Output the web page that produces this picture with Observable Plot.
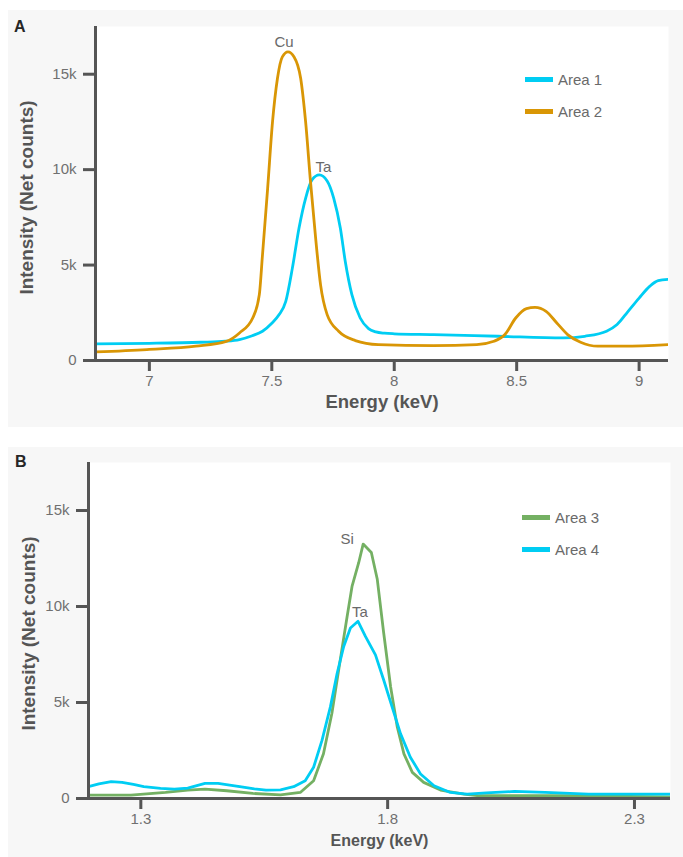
<!DOCTYPE html>
<html>
<head>
<meta charset="utf-8">
<script src="https://cdn.jsdelivr.net/npm/d3@7"></script>
<script src="https://cdn.jsdelivr.net/npm/@observablehq/plot@0.6"></script>
<style>
  body { margin: 0; background: #ffffff; font-family: "Liberation Sans", Arial, sans-serif; }
  #root { position: relative; width: 683px; height: 857px; overflow: hidden; background: #fff; }
  .panel { position: absolute; left: 8px; width: 675px; background: #f7f7f7; }
  .chart { position: absolute; left: 0; }
  .tag { position: absolute; font-weight: bold; font-size: 16px; line-height: 1; color: #262626; }
  .leg { position: absolute; display: flex; align-items: center; height: 20px; font-size: 15px; color: #6a6a6a; white-space: nowrap; }
  .leg .sw { display: inline-block; width: 28px; height: 5px; margin-right: 5px; }
</style>
</head>
<body>
<div id="root">
  <div class="panel" style="top:10px;height:417px;"></div>
  <div class="panel" style="top:447px;height:410px;"></div>
</div>
<script>
// ---------- Data ----------
const panelTags = ["A", "B"];
const seriesA = ["Area 1", "Area 2"];
const seriesB = ["Area 3", "Area 4"];
const colors = { "Area 1": "#00cdf3", "Area 2": "#d99605", "Area 3": "#74b063", "Area 4": "#00cdf3" };

const xDomainA = [6.78, 9.12];
const xDomainB = [1.194, 2.373];
const yDomain = [0, 17500];
const xTicksA = [7, 7.5, 8, 8.5, 9];
const xTicksB = [1.3, 1.8, 2.3];
const yTicks = [0, 5000, 10000, 15000];
const yTickLabels = ["0", "5k", "10k", "15k"];
const xLabel = "Energy (keV)";
const yLabel = "Intensity (Net counts)";

// Area 1 (panel A, cyan)
const area1Energy = [6.78, 7.00, 7.21, 7.31, 7.368, 7.42, 7.462, 7.50, 7.53, 7.557, 7.584, 7.611, 7.638, 7.664, 7.694, 7.726, 7.753, 7.78, 7.80, 7.827, 7.861, 7.895, 7.925, 7.96, 8.0, 8.16, 8.425, 8.69, 8.778, 8.867, 8.91, 8.955, 9.0, 9.043, 9.078, 9.12];
const area1Counts = [870, 900, 957, 1010, 1098, 1300, 1532, 1950, 2405, 3100, 4840, 6931, 8500, 9462, 9723, 9409, 8500, 6931, 5191, 3450, 2227, 1673, 1500, 1430, 1400, 1359, 1270, 1181, 1270, 1532, 1882, 2577, 3272, 3884, 4182, 4250];
// Area 2 (panel A, orange)
const area2Energy = [6.78, 6.99, 7.19, 7.314, 7.368, 7.422, 7.449, 7.462, 7.483, 7.503, 7.523, 7.543, 7.566, 7.591, 7.618, 7.638, 7.658, 7.679, 7.699, 7.726, 7.773, 7.841, 7.935, 8.16, 8.337, 8.407, 8.452, 8.496, 8.54, 8.575, 8.62, 8.664, 8.708, 8.761, 8.831, 8.937, 9.12];
const area2Counts = [450, 575, 748, 1000, 1443, 2227, 3450, 5541, 9023, 12510, 14773, 15907, 16168, 15907, 14773, 12510, 9373, 6410, 3973, 2405, 1532, 1045, 836, 784, 836, 1009, 1359, 2227, 2718, 2786, 2577, 1966, 1359, 957, 748, 748, 836];
// Area 3 (panel B, green)
const area3Energy = [1.194, 1.28, 1.35, 1.395, 1.43, 1.474, 1.527, 1.583, 1.623, 1.65, 1.67, 1.687, 1.704, 1.718, 1.728, 1.7415, 1.7504, 1.767, 1.779, 1.792, 1.806, 1.8195, 1.833, 1.85, 1.873, 1.907, 1.954, 1.986, 2.163, 2.373];
const area3Counts = [178, 178, 315, 440, 493, 404, 262, 194, 315, 928, 2328, 4426, 7221, 9491, 11064, 12292, 13251, 12816, 11416, 8621, 5821, 3723, 2328, 1363, 839, 440, 231, 142, 142, 89];
// Area 4 (panel B, cyan)
const area4Energy = [1.194, 1.215, 1.24, 1.262, 1.285, 1.306, 1.34, 1.368, 1.395, 1.43, 1.4565, 1.48, 1.5005, 1.53, 1.5536, 1.583, 1.6096, 1.633, 1.65, 1.667, 1.684, 1.6977, 1.711, 1.7246, 1.74, 1.755, 1.7753, 1.792, 1.809, 1.826, 1.846, 1.8666, 1.894, 1.927, 1.961, 2.0, 2.057, 2.119, 2.207, 2.373];
const area4Counts = [614, 760, 876, 839, 730, 614, 530, 493, 545, 787, 787, 700, 614, 500, 440, 450, 614, 928, 1626, 3026, 4772, 6523, 7918, 8883, 9229, 8443, 7483, 6172, 4772, 3377, 2150, 1279, 666, 315, 231, 290, 367, 315, 231, 231];

// Peak annotations: element label, series it marks
const annotA = [{ label: "Cu", series: "Area 2" }, { label: "Ta", series: "Area 1" }];
const annotB = [{ label: "Si", series: "Area 3" }, { label: "Ta", series: "Area 4" }];

// ---------- Build ----------
const toRows = (name, E, C) => E.map((e, i) => ({ series: name, energy: e, counts: C[i] }));
const rowsA = [...toRows("Area 1", area1Energy, area1Counts), ...toRows("Area 2", area2Energy, area2Counts)];
const rowsB = [...toRows("Area 3", area3Energy, area3Counts), ...toRows("Area 4", area4Energy, area4Counts)];

const peakOf = (rows, s) => d3.greatest(rows.filter(r => r.series === s), r => r.counts);
const fontFamily = '"Liberation Sans", Arial, sans-serif';
const fmtY = d => yTickLabels[yTicks.indexOf(d)];

function makeChart(opts) {
  const { rows, series, xDomain, xTicks, curve, annot, offsets, margins, height, yLab, xLab } = opts;
  const peaks = annot.map(a => ({ ...peakOf(rows, a.series), label: a.label }));
  return Plot.plot({
    width: 683,
    height,
    ...margins,
    style: { background: "transparent", fontFamily, fontSize: "15px", overflow: "visible" },
    x: { domain: xDomain },
    y: { domain: yDomain },
    marks: [
      Plot.frame({ fill: "white", stroke: "none" }),
      Plot.axisX({ ticks: xTicks, tickSize: 11, tickPadding: 4, stroke: "#555", strokeWidth: 3, color: "#707070", label: null, tickFormat: d => String(d) }),
      Plot.axisY({ ticks: yTicks, tickSize: 12, tickPadding: 7, stroke: "#555", strokeWidth: 3, color: "#707070", label: null, tickFormat: fmtY }),
      ...series.map(s => Plot.line(rows.filter(r => r.series === s), { x: "energy", y: "counts", stroke: colors[s], strokeWidth: 2.8, curve, clip: true })),
      Plot.ruleX([xDomain[0]], { stroke: "#555", strokeWidth: 3 }),
      Plot.ruleY([yDomain[0]], { stroke: "#555", strokeWidth: 3 }),
      ...peaks.map((p, i) => Plot.text([p], { x: "energy", y: "counts", text: "label", dx: offsets[i][0], dy: offsets[i][1], fill: "#6a6a6a", fontSize: 15 })),
      Plot.text([xLabel], { text: d => d, frameAnchor: "bottom", textAnchor: "middle", dy: xLab.dy, fontWeight: "bold", fontSize: xLab.size, fill: "#555" }),
      Plot.text([yLabel], { text: d => d, frameAnchor: "left", textAnchor: "middle", rotate: -90, dx: yLab.dx, dy: yLab.dy, fontWeight: "bold", fontSize: yLab.size, fill: "#555" })
    ]
  });
}

const root = document.getElementById("root");

const chartA = makeChart({
  rows: rowsA, series: seriesA, xDomain: xDomainA, xTicks: xTicksA, curve: "monotone-x",
  annot: annotA, offsets: [[-4, -10], [4, -8]],
  margins: { marginLeft: 95, marginRight: 15, marginTop: 26, marginBottom: 70 },
  height: 430,
  yLab: { dx: -69, dy: 4, size: 19 },
  xLab: { dy: 47, size: 18.5 }
});
chartA.classList.add("chart");
chartA.style.top = "0px";
root.appendChild(chartA);

const chartB = makeChart({
  rows: rowsB, series: seriesB, xDomain: xDomainB, xTicks: xTicksB, curve: "linear",
  annot: annotB, offsets: [[-16, -5], [2, -9]],
  margins: { marginLeft: 88, marginRight: 13, marginTop: 32, marginBottom: 59 },
  height: 427,
  yLab: { dx: -60, dy: 3, size: 19 },
  xLab: { dy: 47.5, size: 16 }
});
chartB.classList.add("chart");
chartB.style.top = "430px";
root.appendChild(chartB);

// Panel tags
[[panelTags[0], 14, 19.3], [panelTags[1], 15, 454.2]].forEach(([t, l, tp]) => {
  const d = document.createElement("div");
  d.className = "tag"; d.textContent = t;
  d.style.left = l + "px"; d.style.top = tp + "px";
  root.appendChild(d);
});

// Legends
function legend(series, left, top0, step) {
  series.forEach((s, i) => {
    const d = document.createElement("div");
    d.className = "leg";
    d.style.left = left + "px";
    d.style.top = (top0 + i * step - 10) + "px";
    const sw = document.createElement("span");
    sw.className = "sw"; sw.style.background = colors[s];
    d.appendChild(sw);
    d.appendChild(document.createTextNode(s));
    root.appendChild(d);
  });
}
legend(seriesA, 525, 79, 32.5);
legend(seriesB, 522, 517, 32);
</script>
</body>
</html>
